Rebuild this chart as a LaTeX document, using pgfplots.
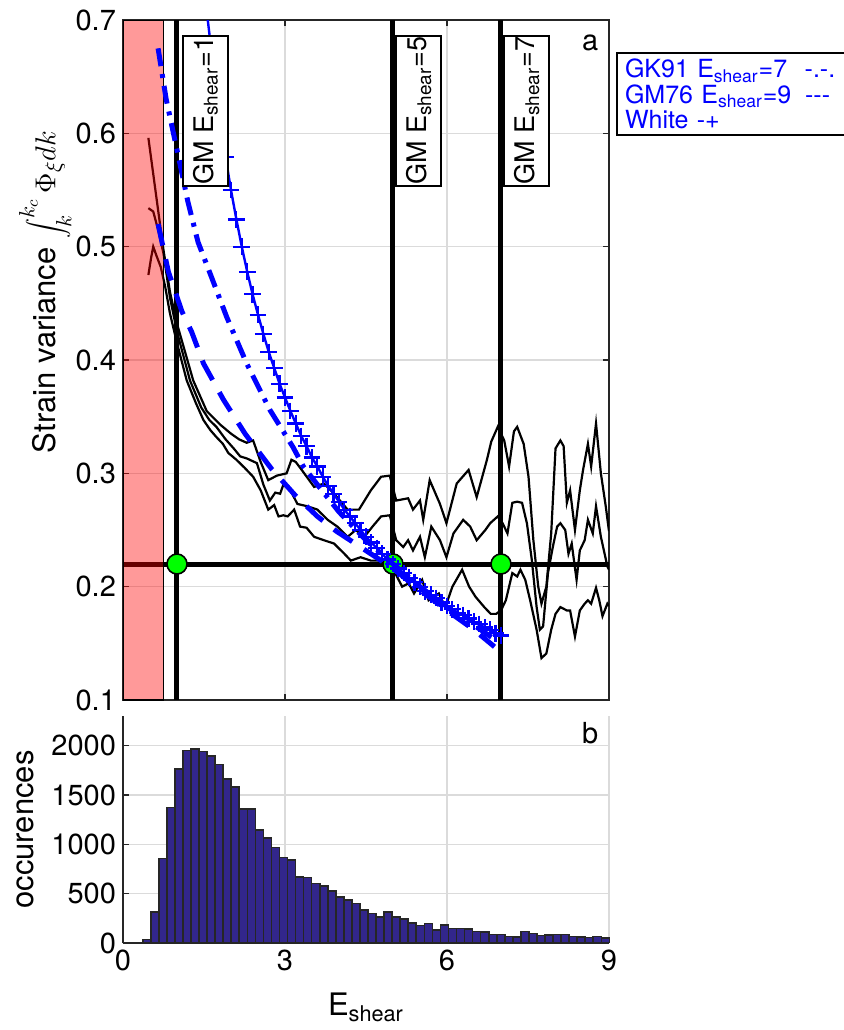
\documentclass[border=0pt]{standalone}
\usepackage{pgfplots}
\pgfplotsset{compat=1.18}
\usepackage{fontspec}
\setmainfont{TeX Gyre Heros}
\definecolor{histfill}{RGB}{50,38,140}
\definecolor{axgray}{RGB}{38,38,38}
\definecolor{mgreen}{RGB}{0,255,0}
\pgfplotstableread{
x y
0.440 34
0.589 315
0.738 858
0.887 1373
1.036 1766
1.185 1949
1.334 1966
1.483 1942
1.632 1892
1.781 1807
1.930 1661
2.079 1580
2.228 1359
2.377 1359
2.526 1146
2.675 1061
2.824 966
2.973 868
3.122 841
3.271 671
3.420 664
3.569 603
3.718 576
3.867 525
4.016 468
4.165 434
4.314 400
4.463 335
4.612 298
4.761 264
4.910 312
5.059 264
5.208 241
5.357 203
5.506 176
5.655 197
5.804 129
5.953 180
6.102 149
6.251 149
6.400 142
6.549 115
6.698 112
6.847 85
6.996 85
7.145 68
7.294 61
7.443 115
7.592 95
7.741 75
7.890 81
8.039 88
8.188 85
8.337 68
8.486 61
8.635 54
8.784 64
8.933 51
}\histtable
\begin{document}
\begin{tikzpicture}
\path[use as bounding box] (0pt,0pt) rectangle (422pt,-515pt);
\pgfplotsset{
  myax/.style={
    scale only axis, width=243pt, xmin=0, xmax=9, xtick={0,3,6,9},
    grid=major, major grid style={black!14, line width=0.8pt},
    tick align=inside, major tick length=3pt, tick style={axgray, line width=0.7pt},
    axis line style={axgray, line width=0.8pt},
    tick label style={font=\fontsize{14.5}{16}\selectfont},
    label style={font=\fontsize{15.5}{18}\selectfont},
    /pgf/number format/assume math mode=true,
    /pgf/number format/1000 sep={},
  }
}
\begin{axis}[myax, at={(61.5pt,-350pt)}, anchor=south west, height=340pt,
  ymin=0.1, ymax=0.7, ytick={0.1,0.2,0.3,0.4,0.5,0.6,0.7}, xticklabels={},
  clip marker paths=true,
  yticklabel style={/pgf/number format/fixed, /pgf/number format/precision=1, /pgf/number format/fixed zerofill},
  ylabel={Strain variance $\displaystyle\int_k^{k_c}\Phi_\xi dk$},
  ylabel style={at={(axis description cs:-0.16,0.6)}, anchor=center},
]
% black curves
\addplot[black, line width=1.1pt] coordinates {(0.47,0.475)(0.52,0.49)(0.56,0.50)(0.62,0.492)(0.70,0.482)(0.78,0.465)(0.87,0.441)(1.0,0.415)(1.18,0.382)(1.35,0.362)(1.49,0.347)(1.62,0.338)(1.73,0.332)(1.85,0.326)(1.95,0.318)(2.10,0.312)(2.25,0.305)(2.41,0.297)(2.55,0.285)(2.69,0.268)(2.80,0.272)(2.88,0.262)(2.97,0.263)(3.05,0.262)(3.17,0.268)(3.28,0.253)(3.40,0.252)(3.54,0.244)(3.72,0.241)(3.91,0.238)(4.10,0.229)(4.22,0.223)(4.40,0.226)(4.59,0.223)(4.78,0.223)(4.92,0.221)(5.04,0.212)(5.17,0.200)(5.29,0.203)(5.39,0.194)(5.54,0.206)(5.66,0.188)(5.85,0.194)(5.97,0.182)(6.10,0.200)(6.28,0.215)(6.41,0.200)(6.53,0.191)(6.69,0.182)(6.81,0.176)(6.91,0.176)(7.00,0.179)(7.09,0.188)(7.21,0.212)(7.30,0.209)(7.36,0.215)(7.45,0.206)(7.54,0.188)(7.66,0.162)(7.75,0.137)(7.84,0.141)(7.93,0.162)(8.01,0.176)(8.10,0.182)(8.22,0.179)(8.28,0.179)(8.37,0.156)(8.46,0.179)(8.55,0.185)(8.61,0.188)(8.67,0.185)(8.76,0.199)(8.82,0.188)(8.88,0.174)(8.97,0.185)(9.0,0.183)};
\addplot[black, line width=1.1pt] coordinates {(0.47,0.534)(0.56,0.531)(0.65,0.515)(0.75,0.494)(0.87,0.455)(1.0,0.425)(1.24,0.382)(1.45,0.358)(1.6,0.347)(1.73,0.341)(1.9,0.33)(2.05,0.322)(2.17,0.315)(2.3,0.313)(2.48,0.309)(2.6,0.29)(2.72,0.276)(2.82,0.283)(2.91,0.282)(2.97,0.29)(3.10,0.285)(3.23,0.273)(3.41,0.271)(3.60,0.268)(3.79,0.259)(3.97,0.253)(4.16,0.244)(4.31,0.250)(4.47,0.244)(4.62,0.253)(4.78,0.262)(4.94,0.263)(5.06,0.241)(5.19,0.235)(5.28,0.241)(5.37,0.232)(5.50,0.244)(5.59,0.226)(5.71,0.253)(5.87,0.241)(5.99,0.226)(6.12,0.247)(6.30,0.259)(6.43,0.253)(6.55,0.241)(6.71,0.250)(6.80,0.256)(6.94,0.262)(7.03,0.256)(7.12,0.247)(7.21,0.274)(7.30,0.275)(7.39,0.274)(7.48,0.256)(7.57,0.224)(7.66,0.182)(7.72,0.162)(7.78,0.165)(7.87,0.212)(7.96,0.235)(8.04,0.253)(8.10,0.256)(8.19,0.250)(8.25,0.229)(8.31,0.238)(8.40,0.206)(8.46,0.232)(8.55,0.241)(8.61,0.259)(8.70,0.247)(8.76,0.271)(8.85,0.244)(8.97,0.218)(9.0,0.215)};
\addplot[black, line width=1.1pt] coordinates {(0.47,0.596)(0.6,0.55)(0.75,0.497)(0.87,0.46)(1.0,0.432)(1.3,0.382)(1.55,0.355)(1.8,0.343)(2.0,0.335)(2.15,0.33)(2.29,0.327)(2.41,0.329)(2.55,0.31)(2.69,0.294)(2.85,0.298)(3.03,0.300)(3.12,0.312)(3.2,0.31)(3.31,0.303)(3.54,0.288)(3.72,0.291)(3.91,0.282)(4.16,0.268)(4.37,0.268)(4.59,0.285)(4.78,0.297)(4.94,0.298)(5.06,0.276)(5.28,0.278)(5.37,0.268)(5.50,0.276)(5.56,0.259)(5.68,0.294)(5.87,0.273)(5.99,0.256)(6.18,0.291)(6.40,0.303)(6.55,0.279)(6.74,0.312)(6.82,0.328)(6.94,0.341)(7.06,0.329)(7.15,0.306)(7.24,0.337)(7.30,0.341)(7.42,0.326)(7.51,0.297)(7.60,0.241)(7.69,0.200)(7.75,0.185)(7.84,0.200)(7.93,0.247)(8.01,0.322)(8.10,0.329)(8.16,0.324)(8.22,0.274)(8.28,0.285)(8.37,0.250)(8.46,0.285)(8.52,0.303)(8.61,0.326)(8.67,0.306)(8.76,0.344)(8.85,0.300)(8.94,0.271)(9.0,0.249)};
% thick reference lines
\addplot[black, line width=2.5pt] coordinates {(0,0.22)(9,0.22)};
\addplot[black, line width=2.5pt] coordinates {(1,0.1)(1,0.7)};
\addplot[black, line width=2.5pt] coordinates {(5,0.1)(5,0.7)};
\addplot[black, line width=2.5pt] coordinates {(7,0.1)(7,0.7)};
\addplot[only marks, mark=*, mark size=5pt, mark options={fill=mgreen, draw=black, line width=0.8pt}] coordinates {(1,0.22)(5,0.22)(7,0.22)};
% red patch
\addplot[fill=red, fill opacity=0.4, draw=black, line width=0.8pt] coordinates {(0,0.1)(0.75,0.1)(0.75,0.7)(0,0.7)(0,0.1)};
% model curves
\addplot[blue, line width=2.5pt, dash pattern=on 11pt off 7pt] coordinates {(0.65,0.52)(0.84,0.478)(1.09,0.443)(1.27,0.425)(1.49,0.397)(1.86,0.365)(2.26,0.335)(2.75,0.304)(3.2,0.280)(3.6,0.262)(3.95,0.249)(4.59,0.229)(5.0,0.216)(5.5,0.197)(6.0,0.179)(6.5,0.162)(6.88,0.147)};
\addplot[blue, line width=2.5pt, dash pattern=on 9pt off 4pt on 2pt off 4pt] coordinates {(0.65,0.675)(0.8,0.63)(1.06,0.572)(1.2,0.54)(1.39,0.504)(1.64,0.473)(1.92,0.438)(2.29,0.397)(2.72,0.356)(3.15,0.323)(3.34,0.306)(3.6,0.29)(4.0,0.266)(4.5,0.241)(5.0,0.220)(5.5,0.200)(6.0,0.182)(6.5,0.166)(6.9,0.153)};
\addplot[blue, line width=1.2pt] coordinates {(1.57,0.70)(1.7,0.647)};
\addplot[blue, line width=1.2pt, mark=+, mark size=4.2pt, mark options={solid, line width=1.1pt}] coordinates {(1.7,0.647)(1.8,0.611)(1.9,0.579)(2.0,0.550)(2.1,0.524)(2.2,0.500)(2.3,0.478)(2.4,0.458)(2.5,0.440)(2.6,0.423)(2.7,0.407)(2.8,0.393)(2.9,0.379)(3.0,0.367)(3.1,0.355)(3.2,0.344)(3.3,0.333)(3.4,0.324)(3.5,0.314)(3.6,0.306)(3.7,0.297)(3.8,0.289)(3.9,0.282)(4.0,0.275)(4.1,0.268)(4.2,0.262)(4.3,0.256)(4.4,0.250)(4.5,0.244)(4.6,0.239)(4.7,0.234)(4.8,0.229)(4.9,0.224)(5.0,0.220)(5.1,0.216)(5.2,0.212)(5.3,0.208)(5.4,0.204)(5.5,0.200)(5.6,0.196)(5.7,0.193)(5.8,0.190)(5.9,0.186)(6.0,0.183)(6.1,0.180)(6.2,0.177)(6.3,0.175)(6.4,0.172)(6.5,0.169)(6.6,0.167)(6.7,0.164)(6.8,0.162)(6.9,0.159)(7.0,0.157)};
% annotation boxes
\node[rotate=90, draw=black, line width=1pt, fill=white, minimum width=75pt, minimum height=22.5pt, inner sep=0pt, font=\fontsize{13.5}{15}\selectfont] at (axis cs:1.53,0.62) {GM E\textsubscript{shear}=1};
\node[rotate=90, draw=black, line width=1pt, fill=white, minimum width=75pt, minimum height=22.5pt, inner sep=0pt, font=\fontsize{13.5}{15}\selectfont] at (axis cs:5.48,0.62) {GM E\textsubscript{shear}=5};
\node[rotate=90, draw=black, line width=1pt, fill=white, minimum width=75pt, minimum height=22.5pt, inner sep=0pt, font=\fontsize{13.5}{15}\selectfont] at (axis cs:7.48,0.62) {GM E\textsubscript{shear}=7};
\node[font=\fontsize{14.5}{16}\selectfont] at (axis cs:8.65,0.68) {a};
\end{axis}
\begin{axis}[myax, at={(61.5pt,-471.5pt)}, anchor=south west, height=113.5pt,
  ymin=0, ymax=2300, ytick={0,500,1000,1500,2000}, scaled y ticks=false,
  axis x line*=bottom, axis y line*=left, axis line style={-},
  xlabel={E\textsubscript{shear}}, ylabel={occurences},
  xlabel style={at={(axis description cs:0.5,-0.19)}, anchor=north},
  ylabel style={at={(axis description cs:-0.2,0.5)}, anchor=center},
]
\addplot[ybar, bar width=0.149, fill=histfill, draw=axgray, line width=0.8pt] table[x=x, y=y] {\histtable};
\node[font=\fontsize{14.5}{16}\selectfont] at (axis cs:8.65,2130) {b};
\end{axis}
\node[draw=black, line width=1pt, anchor=north west, inner xsep=4pt, inner ysep=3pt, text width=125pt, align=left, text=blue, font=\fontsize{12.5}{12.8}\selectfont] at (308pt,-26pt) {GK91 E\textsubscript{shear}=7\hspace{0.7em}-.-.\\GM76 E\textsubscript{shear}=9\hspace{0.55em}-{}-{}-\\White -+};
\end{tikzpicture}
\end{document}
